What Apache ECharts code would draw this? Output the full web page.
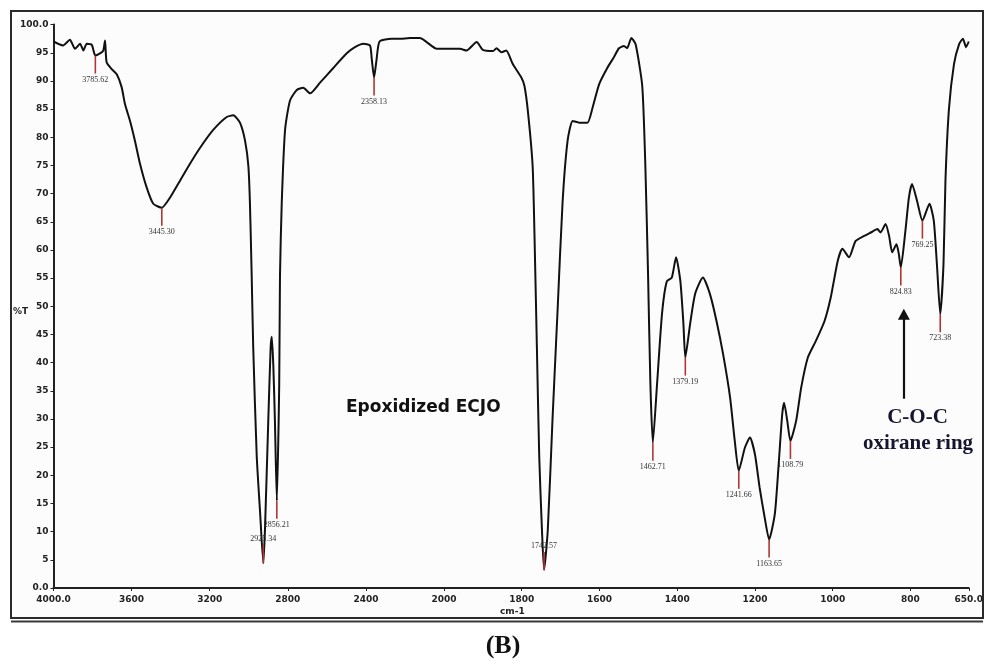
<!DOCTYPE html>
<html>
<head>
<meta charset="utf-8">
<script src="https://cdn.jsdelivr.net/npm/echarts@6/dist/echarts.min.js"></script>
<style>
html,body{margin:0;padding:0;background:#fff;}
#chart{width:986px;height:662px;}
</style>
</head>
<body>
<div id="chart"></div>
<script>
// ---- data ----
const wavenumbers = [4000,3951,3916,3890,3864,3847,3830,3804,3785.62,3762,3745,3736,3728,3702,3676,3651,3634,3608,3583,3557,3523,3489,3445.3,3403,3352,3301,3250,3182,3113,3079,3045,3019,3002,2994,2985,2977,2959,2942,2925.34,2917,2900,2888,2882,2874,2866,2856.21,2844,2840,2831,2814,2789,2754,2721,2686,2635,2567,2498,2456,2413,2379,2370,2358.13,2346,2330,2268,2225,2174,2123,2089,2037,2000,
  1993,1959,1942,1916,1900,1874,1865,1852,1840,1823,1801,1793,1784,1772,1767,1761,1755,1748,1742.57,1733,1721,1708,1695,1682,1669,1652,1631,1618,1601,1580,1563,1550,1537,1529,1518,1507,1490,1482,1475,1469,1462.71,1452,1439,1427,1414,1403,1392,1384,1379.19,1367,1354,1334,1316,1299,1282,1264,1252,1241.66,1226,1213,1200,1188,1175,1163.65,1149,1139,1130,1125,1117,1108.79,1094,1081,1064,1043,1021,1005,987,975,958,941,919,902,885,877,864,855,847,836,830,824.83,813,804,796,783,769.25,751,740,732,723.38,715,710,701,688,675,665,657,650];
const transmittance = [97.0,96.3,97.3,95.7,96.6,95.4,96.6,96.4,94.5,94.9,95.4,97.2,93.3,92.1,91.2,88.9,85.9,82.9,79.4,75.3,71.1,68.2,67.5,69.3,72.3,75.3,78.1,81.3,83.6,83.9,82.6,79.4,74.9,68.4,55.5,42.6,23.3,13.5,4.4,10.3,29.7,42.6,44.6,39.3,29.7,15.5,36.1,55.5,68.4,81.3,86.5,88.4,88.8,87.8,89.7,92.3,94.9,96.0,96.6,96.3,93.9,90.6,93.6,97.0,97.5,97.5,97.6,97.6,96.9,95.7,95.7,
  95.7,95.7,95.4,96.9,95.5,95.3,95.8,95.1,95.4,93.0,90.6,89.1,84.5,74.9,62.0,42.6,23.3,10.3,3.2,10.3,29.7,49.0,68.4,79.4,82.9,82.6,82.6,85.2,89.4,92.3,94.2,95.8,96.2,95.8,97.6,96.5,89.1,74.9,55.5,36.1,25.8,36.1,48.8,54.4,55.1,58.7,54.5,46.8,40.9,46.8,52.2,55.1,52.2,47.4,41.5,33.8,26.1,20.8,24.9,26.7,23.7,17.8,12.5,8.6,13.1,22.0,30.8,32.9,29.7,26.1,29.7,35.6,40.9,43.9,47.4,51.6,58.1,60.2,58.7,61.6,62.5,63.1,63.7,63.1,64.6,62.5,59.6,61.0,59.3,56.9,63.4,69.3,71.7,68.7,65.2,68.2,65.2,57.5,48.6,57.5,72.3,85,93,96.5,97.5,96,97];

const peakWn = [3785.62,3445.30,2925.34,2856.21,2358.13,1742.57,1462.71,1379.19,1241.66,1163.65,1108.79,824.83,769.25,723.38];
const peakT = [94.5,67.5,4.4,15.5,90.6,3.2,25.8,40.9,20.8,8.6,26.1,56.9,65.2,48.6];
const peakLabels = ['3785.62','3445.30','2925.34','2856.21','2358.13','1742.57','1462.71','1379.19','1241.66','1163.65','1108.79','824.83','769.25','723.38'];

const xTicksHigh = [4000,3600,3200,2800,2400];
const xTicksLow = [2000,1800,1600,1400,1200,1000,800,650];
const breakWn = 2000;
const arrowWn = 817;
const arrowFromTo = [33.6, 48.6];

// ---- build ----
const pts = wavenumbers.map((w,i)=>[w, transmittance[i]]);
const highPts = pts.filter(p=>p[0]>=breakWn);
const lowPts = pts.filter(p=>p[0]<=breakWn);
const peaks = peakWn.map((w,i)=>({w:w,t:peakT[i],label:peakLabels[i]}));
const peaksHigh = peaks.filter(p=>p.w>=breakWn);
const peaksLow = peaks.filter(p=>p.w<breakWn);

function makePeakRender(list){
  return function(params, api){
    const p = api.coord([api.value(0), api.value(1)]);
    const up = api.value(1) < 6;
    const L = 18;
    const y2 = up ? p[1]-L : p[1]+L;
    const ty = up ? y2-6 : y2+6;
    return {type:'group', children:[
      {type:'line', shape:{x1:p[0],y1:p[1],x2:p[0],y2:y2}, style:{stroke:'#b03636', lineWidth:1.6}},
      {type:'text', x:p[0], y:ty, style:{text:list[params.dataIndex].label, fill:'#333', font:'8px "Liberation Serif"', align:'center', verticalAlign:'middle'}}
    ]};
  };
}

const axisLabelStyle = {color:'#222', fontSize:9, fontWeight:'bold', fontFamily:'DejaVu Sans'};
const gTop = 24.6, gH = 563.4;

const chart = echarts.init(document.getElementById('chart'), null, {renderer:'canvas'});
chart.setOption({
  animation:false,
  backgroundColor:'#ffffff',
  grid:[
    {left:53.5, top:gTop, width:390.5, height:gH},
    {left:444, top:gTop, width:528, height:gH}
  ],
  xAxis:[
    {type:'value', gridIndex:0, min:2000, max:4000, inverse:true,
     axisLine:{show:true, lineStyle:{color:'#222', width:2}},
     axisTick:{show:true, length:3, customValues:xTicksHigh, lineStyle:{color:'#222'}},
     axisLabel:Object.assign({margin:7, customValues:xTicksHigh, formatter:v=>v===4000?'4000.0':String(v)}, axisLabelStyle),
     splitLine:{show:false}},
    {type:'value', gridIndex:1, min:650, max:2000, inverse:true,
     axisLine:{show:true, lineStyle:{color:'#222', width:2}},
     axisTick:{show:true, length:3, customValues:xTicksLow, lineStyle:{color:'#222'}},
     axisLabel:Object.assign({margin:7, customValues:xTicksLow, formatter:v=>v===650?'650.0':String(v)}, axisLabelStyle),
     splitLine:{show:false}}
  ],
  yAxis:[
    {type:'value', gridIndex:0, min:0, max:100, interval:5,
     axisLine:{show:true, lineStyle:{color:'#222', width:2}},
     axisTick:{show:true, length:3, lineStyle:{color:'#222'}},
     axisLabel:Object.assign({margin:5, formatter:v=>v===0?'0.0':(v===100?'100.0':String(v))}, axisLabelStyle),
     splitLine:{show:false}},
    {type:'value', gridIndex:1, min:0, max:100, show:false, splitLine:{show:false}}
  ],
  series:[
    {type:'line', xAxisIndex:0, yAxisIndex:0, data:highPts, showSymbol:false, smooth:0.2,
     lineStyle:{color:'#111', width:2}, z:3},
    {type:'line', xAxisIndex:1, yAxisIndex:1, data:lowPts, showSymbol:false, smooth:0.2,
     lineStyle:{color:'#111', width:2}, z:3,
     markLine:{silent:true, symbol:['none','triangle'], symbolSize:[12,11], animation:false,
       label:{show:false}, lineStyle:{color:'#111', width:2.2, type:'solid'},
       data:[[{coord:[arrowWn, arrowFromTo[0]]},{coord:[arrowWn, arrowFromTo[1]]}]]}},
    {type:'custom', xAxisIndex:0, yAxisIndex:0, data:peaksHigh.map(p=>[p.w,p.t]), renderItem:makePeakRender(peaksHigh), clip:false, z:4},
    {type:'custom', xAxisIndex:1, yAxisIndex:1, data:peaksLow.map(p=>[p.w,p.t]), renderItem:makePeakRender(peaksLow), clip:false, z:4}
  ],
  graphic:[
    {type:'rect', z:-10, shape:{x:11,y:11,width:972,height:607}, style:{fill:'#fcfcfc', stroke:'#2a2a2a', lineWidth:2}},
    {type:'line', z:-10, shape:{x1:11,y1:621.5,x2:983,y2:621.5}, style:{stroke:'#3a3a3a', lineWidth:2}},
    {type:'text', left:13, top:307, style:{text:'%T', font:'bold 9px "DejaVu Sans"', fill:'#222'}},
    {type:'text', left:500, top:607, style:{text:'cm-1', font:'bold 9px "DejaVu Sans"', fill:'#222'}},
    {type:'text', left:346, top:399, style:{text:'Epoxidized ECJO', font:'bold 17px "DejaVu Sans"', fill:'#111'}},
    {type:'text', x:917.5, y:418, style:{text:'C-O-C', font:'bold 21px "Liberation Serif"', fill:'#15152e', align:'center', verticalAlign:'middle'}},
    {type:'text', x:918, y:443.5, style:{text:'oxirane ring', font:'bold 21px "Liberation Serif"', fill:'#15152e', align:'center', verticalAlign:'middle'}},
    {type:'text', x:503, y:646, style:{text:'(B)', font:'bold 26px "Liberation Serif"', fill:'#111', align:'center', verticalAlign:'middle'}}
  ]
});
</script>
</body>
</html>
